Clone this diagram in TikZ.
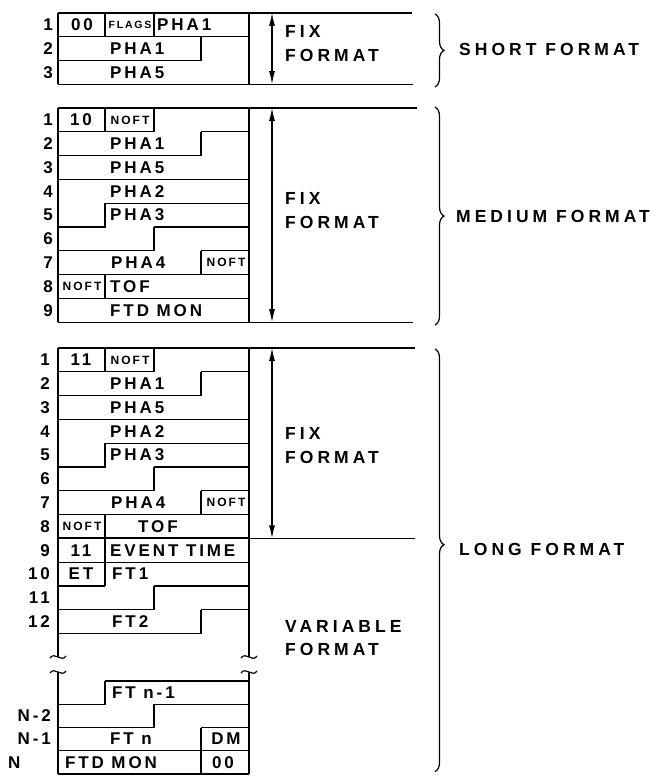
\documentclass[tikz,border=0pt]{standalone}
\usepackage{fontspec}
\setmainfont{Liberation Sans}[LetterSpace=17]
\newfontfamily\widefont{Liberation Sans}[LetterSpace=23]
\usetikzlibrary{arrows.meta,decorations.pathreplacing}
\tikzset{
  >={Latex[length=13pt,width=6pt]},
  wire/.style={line width=1.2pt},
  heavy/.style={line width=2pt},
  fld/.style={font=\fontsize{17}{17}\selectfont\bfseries,inner sep=0pt},
  small fld/.style={fld,font=\fontsize{12}{12}\selectfont\bfseries},
  num/.style={fld,anchor=east},
  grouplabel/.style={font=\widefont\fontsize{17.5}{17.5}\selectfont\bfseries,inner sep=0pt,anchor=west},
  extent/.style={<->,line width=1.1pt},
  grp/.style={decorate,decoration={brace,amplitude=9pt,aspect=#1},line width=1.2pt},
  grp/.default=0.5,
  % break mark on a cut line
  pics/brk/.style={code={\draw[wire] (-8,1) .. controls (-3,-6) and (3,6) .. (8,-1);}},
}
\begin{document}
\begin{tikzpicture}[x=1pt,y=-1pt]
\useasboundingbox (0,0) rectangle (657,776);

% short format
\begin{scope}[shift={(0,13)},y=-23.7pt]
  \draw[wire] (58,0) -- (412,0) (58,3) -- (413,3) (58,0) -- (58,3) (249,0) -- (249,3);
  \draw[wire] (58,1) -- (249,1) (105,0) -- (105,1) (154,0) -- (154,1);
  \draw[wire] (58,2) -- (201,2) -- (201,1);
  \node[fld] (s-id) at (82,.5) {00};
  \node[small fld,font=\fontsize{10.5}{10.5}\selectfont\bfseries] (s-flags) at (130,.5) {FLAGS};
  \node[fld,anchor=west] (s-pha1a) at (157,.5) {PHA1};
  \node[fld,anchor=west] (s-pha1b) at (110,1.5) {PHA1};
  \node[fld,anchor=west] (s-pha5) at (110,2.5) {PHA5};
  \foreach \n in {1,2,3} \node[num] (s-row\n) at (53,\n-.5) {\n};
  \coordinate (s-top) at (272,0); \coordinate (s-bot) at (272,3);
  \draw[extent] (s-top) -- (s-bot);
  \node[grouplabel] (s-fix) at (285,.8) {FIX};
  \node[grouplabel] (s-fmt) at (285,1.8) {FORMAT};
  \coordinate (s-b1) at (435,.04); \coordinate (s-b2) at (435,3.12);
  \draw[grp] (s-b1) -- (s-b2);
  \node[grouplabel] (s-name) at (459,1.56) {SHORT FORMAT};
\end{scope}

% fix part, shared by medium and long
\foreach \t/\id/\nx/\tof in {108/10/53/110,348/11/50/138}{
  \begin{scope}[shift={(0,\t)},y=-23.8pt]
    \draw[wire] (58,1) -- (154,1) (105,0) -- (105,1) (154,0) -- (154,1) (201,1) -- (249,1);
    \draw[wire] (58,2) -- (201,2) -- (201,1);
    \draw[wire] (58,3) -- (249,3);
    \draw[wire] (249,4) -- (105,4) -- (105,5) -- (58,5);
    \draw[wire] (154,5) -- (249,5) (154,5) -- (154,6) -- (58,6);
    \draw[wire] (201,6) -- (249,6) (201,6) -- (201,7);
    \draw[wire] (58,7) -- (249,7) (105,7) -- (105,8);
    \node[fld] (f\id-id) at (81,.5) {\id};
    \node[small fld] (f\id-noft1) at (130,.5) {NOFT};
    \node[fld,anchor=west] (f\id-pha1) at (110,1.5) {PHA1};
    \node[fld,anchor=west] (f\id-pha5) at (110,2.5) {PHA5};
    \node[fld,anchor=west] (f\id-pha2) at (110,3.5) {PHA2};
    \node[fld,anchor=west] (f\id-pha3) at (110,4.5) {PHA3};
    \node[fld,anchor=west] (f\id-pha4) at (111,6.5) {PHA4};
    \node[small fld] (f\id-noft7) at (226,6.5) {NOFT};
    \node[small fld] (f\id-noft8) at (82,7.5) {NOFT};
    \node[fld,anchor=west] (f\id-tof) at (\tof,7.5) {TOF};
    \foreach \n in {1,...,8} \node[num] (f\id-row\n) at (\nx,\n-.5) {\n};
  \end{scope}
}

% medium format
\begin{scope}[shift={(0,108)},y=-23.8pt]
  \draw[wire] (58,0) -- (417,0) (58,9) -- (413,9) (58,0) -- (58,9) (249,0) -- (249,9);
  \draw[wire] (58,8) -- (249,8);
  \node[fld,anchor=west] (m-ftd) at (110,8.5) {FTD MON};
  \node[num] (m-row9) at (53,8.5) {9};
  \coordinate (m-top) at (272,0); \coordinate (m-bot) at (272,9);
  \draw[extent] (m-top) -- (m-bot);
  \node[grouplabel] (m-fix) at (285,3.82) {FIX};
  \node[grouplabel] (m-fmt) at (285,4.79) {FORMAT};
  \coordinate (m-b1) at (435,-.04); \coordinate (m-b2) at (435,9.12);
  \draw[grp] (m-b1) -- (m-b2);
  \node[grouplabel] (m-name) at (456,4.54) {MEDIUM FORMAT};
\end{scope}

% long format
\begin{scope}[shift={(0,348)},y=-23.8pt]
  \draw[wire] (58,0) -- (415,0) (249,8) -- (415,8);
  \draw[heavy] (58,8) -- (249,8) (105,8) -- (105,10);
  \draw[wire] (58,9) -- (249,9) (58,10) -- (105,10) (154,10) -- (249,10) (154,10) -- (154,11) -- (58,11);
  \draw[wire] (201,11) -- (249,11) (201,11) -- (201,12) -- (58,12);
  \node[fld] (l-id) at (81,8.5) {11};
  \node[fld,anchor=west] (l-time) at (110,8.5) {EVENT TIME};
  \node[fld] (l-et) at (81,9.5) {ET};
  \node[fld,anchor=west] (l-ft1) at (112,9.5) {FT1};
  \node[fld,anchor=west] (l-ft2) at (112,11.5) {FT2};
  \foreach \n in {9,...,12} \node[num] (l-row\n) at (50,\n-.5) {\n};
  \coordinate (l-top) at (272,0); \coordinate (l-bot) at (272,8);
  \draw[extent] (l-top) -- (l-bot);
  \node[grouplabel] (l-fix) at (285,3.61) {FIX};
  \node[grouplabel] (l-fmt) at (285,4.62) {FORMAT};
  \node[grouplabel] (l-var) at (285,11.68) {VARIABLE};
  \node[grouplabel] (l-vfmt) at (285,12.65) {FORMAT};
  \coordinate (l-b1) at (435,.04); \coordinate (l-b2) at (435,17.8);
  \draw[grp=0.463] (l-b1) -- (l-b2);
  \node[grouplabel] (l-name) at (459,8.45) {LONG FORMAT};
\end{scope}

% cut through the variable part
\draw[wire] (58,348) -- (58,657) (249,348) -- (249,657) (58,672) -- (58,774) (249,672) -- (249,774);
\pic (cut-l1) at (58,657) {brk}; \pic (cut-l2) at (58,672) {brk};
\pic (cut-r1) at (249,657) {brk}; \pic (cut-r2) at (249,672) {brk};

% last words
\begin{scope}[shift={(0,681)},y=-23.25pt]
  \draw[wire] (105,0) -- (249,0) (105,0) -- (105,1) -- (58,1);
  \draw[wire] (154,1) -- (249,1) (154,1) -- (154,2) -- (58,2);
  \draw[wire] (201,2) -- (249,2) (201,2) -- (201,3);
  \draw[wire] (58,3) -- (249,3) (201,3) -- (201,4) (58,4) -- (249,4);
  \node[fld,anchor=west] (e-ftn1) at (112,.5) {FT n-1};
  \node[fld,anchor=west] (e-ftn) at (110,2.5) {FT n};
  \node[fld] (e-dm) at (226,2.5) {DM};
  \node[fld] (e-ftd) at (111,3.5) {FTD MON};
  \node[fld] (e-end) at (223,3.5) {00};
  \node[num] (e-rowa) at (51,1.5) {N-2};
  \node[num] (e-rowb) at (51,2.5) {N-1};
  \node[fld,anchor=west] (e-rowc) at (8,3.5) {N};
\end{scope}
\end{tikzpicture}
\end{document}
